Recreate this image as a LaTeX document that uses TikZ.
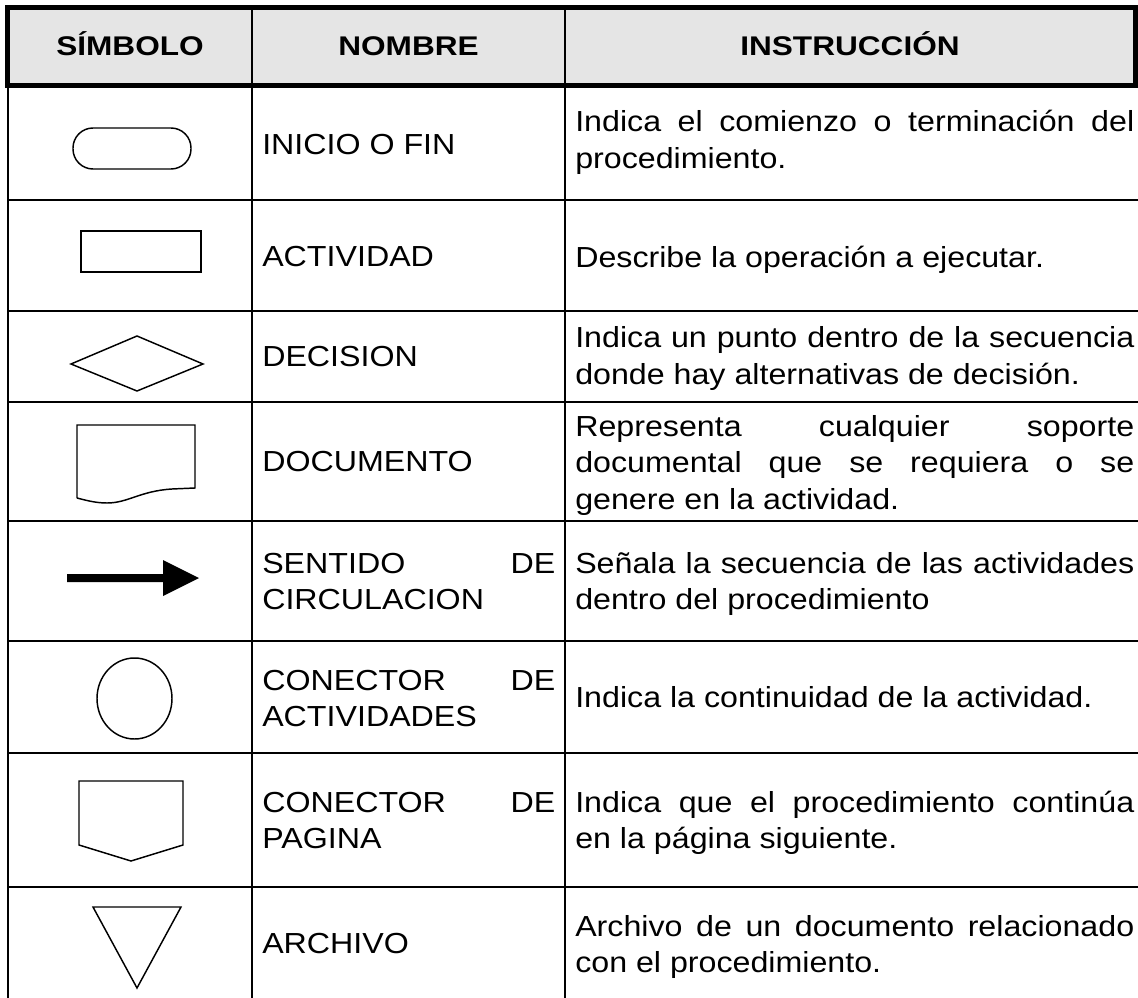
\documentclass[tikz,border=0pt]{standalone}
\usepackage{fontspec}
\setmainfont{Liberation Sans}[FakeStretch=1.11]
\newfontfamily\headfont{Liberation Sans}[FakeStretch=1.17]
\usepackage{tikz}
\tikzstyle{headtxt}=[font=\headfont\fontsize{20.25}{24}\selectfont\bfseries, inner sep=0pt, anchor=base]
\tikzstyle{nametxt}=[font=\fontsize{21.75}{27.5}\selectfont, inner sep=0pt, anchor=base west, text width=219.75pt, align=justify]
\tikzstyle{infotxt}=[font=\fontsize{21.75}{27.5}\selectfont, inner sep=0pt, anchor=base west, text width=419.25pt, align=justify]
\tikzstyle{grid}=[draw, line width=1.5pt]
\tikzstyle{symbol}=[draw, line width=1.1pt]
\hyphenpenalty=10000
\exhyphenpenalty=10000
\tolerance=10000
\hbadness=10000

\begin{document}
\begin{tikzpicture}[x=0.75pt,y=-0.75pt]
                \useasboundingbox (0,0) rectangle (1138,998);
                % header band
                \fill[black!10] (7.5,7.5) rectangle (1135,85.5);
                \draw[grid] (8,85.5) -- (8,998) (252,7.5) -- (252,998) (565,7.5) -- (565,998);
                \foreach \y in {200,311,402,521,641,753,887}
                    \draw[grid] (8,\y) -- (1138,\y);
                \draw[line width=3.75pt] (7.5,7.5) rectangle (1135,85.5);
                \path (130,56) node[headtxt] (h1) {SÍMBOLO}
                    (408.5,56) node[headtxt] (h2) {NOMBRE}
                    (850,56) node[headtxt] (h3) {INSTRUCCIÓN};
                % names
                \path (262,155) node[nametxt] (n1) {INICIO O FIN}
                    (262,267) node[nametxt] (n2) {ACTIVIDAD}
                    (262,367) node[nametxt] (n3) {DECISION}
                    (262,471) node[nametxt] (n4) {DOCUMENTO}
                    (262,573) node[nametxt] (n5) {SENTIDO DE\linebreak CIRCULACION}
                    (262,690) node[nametxt] (n6) {CONECTOR DE\linebreak ACTIVIDADES}
                    (262,812) node[nametxt] (n7) {CONECTOR DE\linebreak PAGINA}
                    (262,953) node[nametxt] (n8) {ARCHIVO};
                % instructions
                \path (575,132) node[infotxt] (t1) {Indica el comienzo o terminación del\linebreak procedimiento.}
                    (575,268) node[infotxt] (t2) {Describe la operación a ejecutar.}
                    (575,348) node[infotxt] (t3) {Indica un punto dentro de la secuencia\linebreak donde hay alternativas de decisión.}
                    (575,436) node[infotxt] (t4) {Representa cualquier soporte\linebreak documental que se requiera o se\linebreak genere en la actividad.}
                    (575,573) node[infotxt] (t5) {Señala la secuencia de las actividades\linebreak dentro del procedimiento}
                    (575,707) node[infotxt] (t6) {Indica la continuidad de la actividad.}
                    (575,812) node[infotxt] (t7) {Indica que el procedimiento continúa\linebreak en la página siguiente.}
                    (575,936) node[infotxt] (t8) {Archivo de un documento relacionado\linebreak con el procedimiento.};
                % symbols
                \draw[symbol, rounded corners=15pt] (73,128) rectangle (191,169);
                \draw[symbol] (81,231) rectangle (201,272);
                \draw[symbol] (71,364) -- (137,336) -- (203,364) -- (137,391) -- cycle;
                \draw[symbol] (77,498) -- (77,425) -- (195,425) -- (195,488) -- (172,489)
                    .. controls (140,491) and (128,503) .. (107,503)
                    .. controls (95,503) and (85,500) .. (77,498);
                \fill (67,574) -- (163,574) -- (163,560) -- (199,578) -- (163,596) -- (163,582) -- (67,582) -- cycle;
                \draw[symbol] (134.5,698.5) ellipse [x radius=37.5, y radius=40.5];
                \draw[symbol] (79,781) -- (183,781) -- (183,845) -- (131,861) -- (79,845) -- cycle;
                \draw[symbol] (93,907) -- (181,907) -- (137,988) -- cycle;
            \end{tikzpicture}
\end{document}
